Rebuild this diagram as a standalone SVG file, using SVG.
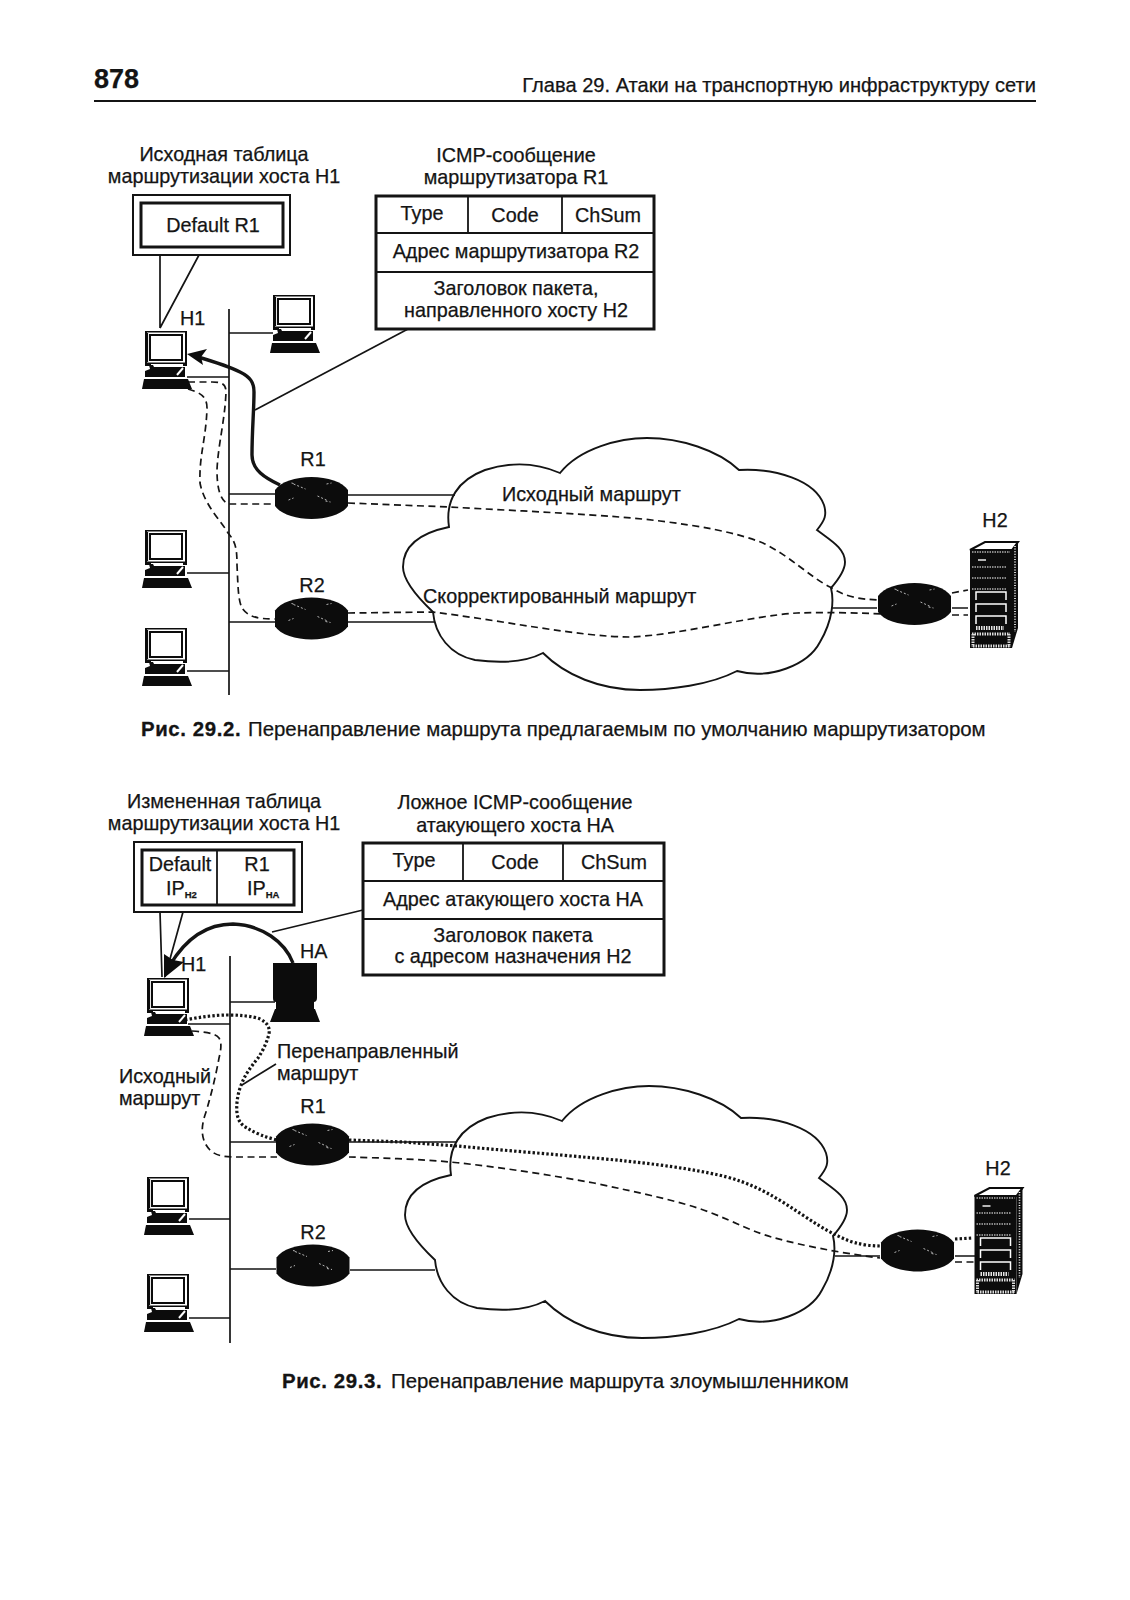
<svg xmlns="http://www.w3.org/2000/svg" xmlns:xlink="http://www.w3.org/1999/xlink" width="1130" height="1600" viewBox="0 0 1130 1600">
<style>
text{font-family:"Liberation Sans",Arial,sans-serif;font-size:19.8px;fill:#141414;stroke:#141414;stroke-width:.25}
.m{text-anchor:middle}
.b{font-weight:bold}
.cap{font-size:20.4px}
.capb{font-size:20.4px;font-weight:bold;letter-spacing:.6px;stroke-width:.3}
.ln{fill:none;stroke:#141414;stroke-width:1.7}
.thk{fill:none;stroke:#141414;stroke-width:3.4}
.tb{fill:#fff;stroke:#141414;stroke-width:3}
.cell{fill:none;stroke:#141414;stroke-width:1.8}
.dash{fill:none;stroke:#141414;stroke-width:1.7;stroke-dasharray:7 4.5}
.dot{fill:none;stroke:#141414;stroke-width:3.2;stroke-dasharray:2.4 2.2}
.cloud{fill:#fff;stroke:#141414;stroke-width:1.9;stroke-linejoin:miter}
.k{fill:#0c0c0c}
.wm{fill:none;stroke:#fff;stroke-width:.7}
</style>
<defs>
<g id="pc">
<path class="k" d="M0,0H42V35H38V33H6V35H0Z"/>
<rect x="2" y="1.5" width="38" height="30" fill="#fff"/>
<rect x="5" y="4" width="32" height="25" fill="#fff" stroke="#0c0c0c" stroke-width="2"/>
<path d="M2.5,2V31" stroke="#0c0c0c" stroke-width="1.2"/>
<path class="k" d="M4,34H8L9,36H40V46H0L0,40L5,38Z"/>
<path d="M32,44L38,37" stroke="#fff" stroke-width="2"/>
<path class="k" d="M-1,48H43L47,58H-3Z"/>
</g>
<g id="pcb">
<path class="k" d="M0,0H44V35C44,38 42,39 41,39V46H42L47,59H-3L2,46H3V39C1,39 0,38 0,35Z"/>
</g>
<g id="rt">
<path class="k" d="M-36.5,-8C-31,-16 -16,-21 0,-21C16,-21 31,-16 36.5,-8V8C31,16 16,21 0,21C-16,21 -31,16 -36.5,8Z"/>
<path class="wm" d="M-18,-14L-6,-9M6,-2L17,3M15,-14L20,-15M-23,2L-18,0M-20,-15L-16,-14M14,3L19,4" stroke-dasharray="2 2"/>
</g>
<g id="srv">
<path d="M0,0L15,-8H48L42,0Z" fill="#fff" stroke="#0c0c0c" stroke-width="2"/>
<path class="k" d="M42,0L48,-8V78L42,98Z"/>
<path d="M45,-4V82" stroke="#fff" stroke-width="1.6" stroke-dasharray="1 1.6"/>
<rect x="0" y="0" width="42" height="98" class="k"/>
<path d="M2,2H40M2,17H36M2,28H36M2,39H36" stroke="#fff" stroke-width="1.2" stroke-dasharray="1.5 1" fill="none"/>
<path d="M8,10H16" stroke="#fff" stroke-width="1.4"/>
<path d="M6,50V42H36V50M6,62V54H36V62M6,74V66H36V74" stroke="#fff" stroke-width="1.5" fill="none"/>
<path d="M6,78H34" stroke="#e4e4e4" stroke-width="4" stroke-dasharray="1.5 1"/>
<path d="M2,84H40M3,84V97M39,84V97M3,96H40" stroke="#ddd" stroke-width="3" stroke-dasharray="1.5 1" fill="none"/>
</g>
<path id="cl" d="M449,527C445,500 458,480 485,470C510,462 535,462 560,473C580,448 620,438 647,438C680,438 718,450 739,470C775,468 815,480 824,505C827,515 825,520 817,530C830,540 845,548 845,562C845,570 838,580 831,588C834,600 833,620 820,642C808,665 770,680 737,671C710,685 670,690 640,690C600,690 565,675 543,653C520,665 490,662 475,660C450,655 435,635 433,612C415,595 403,580 403,567C403,545 420,533 449,527Z"/>
</defs>
<rect width="1130" height="1600" fill="#fff"/>

<g id="header">
<text class="b" x="94" y="88" style="font-size:27px">878</text>
<text x="1036" y="92" text-anchor="end" style="font-size:20.1px">Глава 29. Атаки на транспортную инфраструктуру сети</text>
<path d="M94,101H1036" stroke="#141414" stroke-width="2"/>
</g>

<g id="connectors-29-2">
<use href="#cl" class="cloud"/>
<path class="ln" d="M229,309V695M229,333H273M187,377H229M187,573H229M187,671H229M229,494H275M229,622H275"/>
<path class="ln" d="M348,495H455M348,622H434M832,608H877M952,608H968" stroke-width="2"/>
<path class="ln" d="M408,329L255,410"/>
<path class="ln" d="M160,255V328M199,255L160,328"/>
<path class="dash" d="M188,382H212C222,382 226,384 226,392C225,420 218,445 217,470C217,488 220,500 228,504L275,504"/>
<path class="dash" d="M348,503L449,507C520,511 613,515 660,521C700,526 735,532 763,543C790,556 810,577 830,587C843,595 855,600 885,600"/>
<path class="dash" d="M952,593L968,590"/>
<path class="dash" d="M188,389C198,392 207,395 207,408C206,440 199,455 200,483C204,505 222,522 228,533C236,542 237,550 237,565C238,585 238,600 242,608C248,617 258,619 275,619"/>
<path class="dash" d="M348,613L432,612C500,620 580,637 630,637C680,635 750,616 797,613C825,612 860,613 885,614"/>
<path class="dash" d="M952,615H968"/>
<path class="thk" d="M280,485C265,478 252,470 252,455C252,430 254,410 254,392C254,382 250,377 240,372C228,366 215,362 198,357"/>
<path d="M187,354L207,349L201,357L203,365Z" fill="#0c0c0c"/>
</g>

<g id="H1-a"><use href="#pc" x="145" y="331"/><text x="180" y="325">H1</text></g>
<g id="PC2-a"><use href="#pc" x="273" y="295"/></g>
<g id="PC3-a"><use href="#pc" x="145" y="530"/></g>
<g id="PC4-a"><use href="#pc" x="145" y="628"/></g>
<g id="R1-a"><use href="#rt" x="311.5" y="498"/><text class="m" x="313" y="466">R1</text></g>
<g id="R2-a"><use href="#rt" x="311.5" y="618.5"/><text class="m" x="312" y="592">R2</text></g>
<g id="R3-a"><use href="#rt" x="914.5" y="604"/></g>
<g id="H2-a"><use href="#srv" x="970" y="550"/><text class="m" x="995" y="527">H2</text></g>

<g id="table-h1-a">
<text class="m" x="224" y="161">Исходная таблица</text>
<text class="m" x="224" y="183">маршрутизации хоста H1</text>
<rect x="133" y="195" width="157" height="60" fill="#fff" stroke="#141414" stroke-width="2"/>
<rect x="141" y="203" width="142" height="44" class="tb"/>
<text class="m" x="213" y="232">Default R1</text>
</g>
<g id="icmp-a">
<text class="m" x="516" y="162">ICMP-сообщение</text>
<text class="m" x="516" y="184">маршрутизатора R1</text>
<rect x="376" y="196" width="278" height="133" class="tb"/>
<path class="cell" d="M376,233H654M376,272H654M468,196V233M562,196V233"/>
<text class="m" x="422" y="220">Type</text>
<text class="m" x="515" y="222">Code</text>
<text class="m" x="608" y="222">ChSum</text>
<text class="m" x="516" y="258">Адрес маршрутизатора R2</text>
<text class="m" x="516" y="295">Заголовок пакета,</text>
<text class="m" x="516" y="317">направленного хосту H2</text>
</g>
<g id="labels-a">
<text x="502" y="501">Исходный маршрут</text>
<text x="423" y="603">Скорректированный маршрут</text>
<text class="capb" x="141" y="736">Рис. 29.2.</text>
<text class="cap" x="248" y="736">Перенаправление маршрута предлагаемым по умолчанию маршрутизатором</text>
</g>

<g id="connectors-29-3">
<use href="#cl" class="cloud" x="2" y="648"/>
<path class="ln" d="M230,956V1343M230,1002H275M188,1024H230M189,1219H230M189,1318H230M230,1142H276M230,1269H276"/>
<path class="ln" d="M349,1142H457M350,1270H435M835,1256H880M955,1256H975" stroke-width="2"/>
<path class="ln" d="M363,910L272,932"/>
<path class="ln" d="M160,912L162,977M183,912L165,977"/>
<path class="ln" d="M276,1064L242,1085"/>
<path class="dash" d="M192,1031C205,1032 215,1033 219,1038C222,1043 221,1050 219,1058C216,1075 210,1100 205,1115C200,1130 202,1142 210,1150C216,1156 225,1157 235,1157H277"/>
<path class="dash" d="M349,1157C380,1158 420,1159 450,1162C500,1167 550,1175 594,1183C640,1193 680,1201 709,1212C735,1222 755,1233 775,1238C800,1245 840,1253 880,1258"/>
<path class="dash" d="M955,1262H975"/>
<path class="dot" d="M185,1020C200,1017 215,1015 227,1015C240,1015 252,1016 260,1019C268,1023 270,1028 269,1034C266,1045 262,1052 258,1058C250,1068 245,1075 242,1083C238,1092 236,1103 237,1113C238,1122 243,1126 247,1128C255,1133 265,1137 277,1140"/>
<path class="dot" d="M349,1140L403,1142L457,1146C500,1150 550,1154 594,1158C640,1162 680,1167 709,1173C735,1178 750,1184 767,1193C790,1205 815,1225 836,1235C848,1241 860,1246 882,1246"/>
<path class="dot" d="M955,1239L973,1238"/>
<path class="thk" d="M293,963C285,942 262,925 233,924C205,924 185,940 170,965"/>
<path d="M164,978L164,954L173,960L184,962Z" fill="#0c0c0c"/>
</g>

<g id="H1-b"><use href="#pc" x="147" y="978"/><text x="181" y="971">H1</text></g>
<g id="HA-b"><use href="#pcb" x="273" y="963"/><text x="300" y="958">HA</text></g>
<g id="PC3-b"><use href="#pc" x="147" y="1177"/></g>
<g id="PC4-b"><use href="#pc" x="147" y="1274"/></g>
<g id="R1-b"><use href="#rt" x="312.5" y="1144.5"/><text class="m" x="313" y="1113">R1</text></g>
<g id="R2-b"><use href="#rt" x="313" y="1265.5"/><text class="m" x="313" y="1239">R2</text></g>
<g id="R3-b"><use href="#rt" x="917.5" y="1250.5"/></g>
<g id="H2-b"><use href="#srv" x="974.5" y="1196"/><text class="m" x="998" y="1175">H2</text></g>

<g id="table-h1-b">
<text class="m" x="224" y="808">Измененная таблица</text>
<text class="m" x="224" y="830">маршрутизации хоста H1</text>
<rect x="134" y="842" width="168" height="70" fill="#fff" stroke="#141414" stroke-width="2"/>
<rect x="142" y="850" width="152" height="55" class="tb"/>
<path class="cell" d="M217,850V905"/>
<text class="m" x="180" y="871">Default</text>
<text x="166" y="895">IP<tspan dy="3" class="b" style="font-size:9.5px">H2</tspan></text>
<text class="m" x="257" y="871">R1</text>
<text x="247" y="895">IP<tspan dy="3" class="b" style="font-size:9.5px">HA</tspan></text>
</g>
<g id="icmp-b">
<text class="m" x="515" y="809">Ложное ICMP-сообщение</text>
<text class="m" x="515" y="832">атакующего хоста HA</text>
<rect x="363" y="843" width="301" height="132" class="tb"/>
<path class="cell" d="M363,881H664M363,919H664M463,843V881M563,843V881"/>
<text class="m" x="414" y="867">Type</text>
<text class="m" x="515" y="869">Code</text>
<text class="m" x="614" y="869">ChSum</text>
<text class="m" x="513" y="906">Адрес атакующего хоста HA</text>
<text class="m" x="513" y="942">Заголовок пакета</text>
<text class="m" x="513" y="963">с адресом назначения H2</text>
</g>
<g id="labels-b">
<text x="277" y="1058">Перенаправленный</text>
<text x="277" y="1080">маршрут</text>
<text x="119" y="1083">Исходный</text>
<text x="119" y="1105">маршрут</text>
<text class="capb" x="282" y="1388">Рис. 29.3.</text>
<text class="cap" x="391" y="1388">Перенаправление маршрута злоумышленником</text>
</g>
</svg>
